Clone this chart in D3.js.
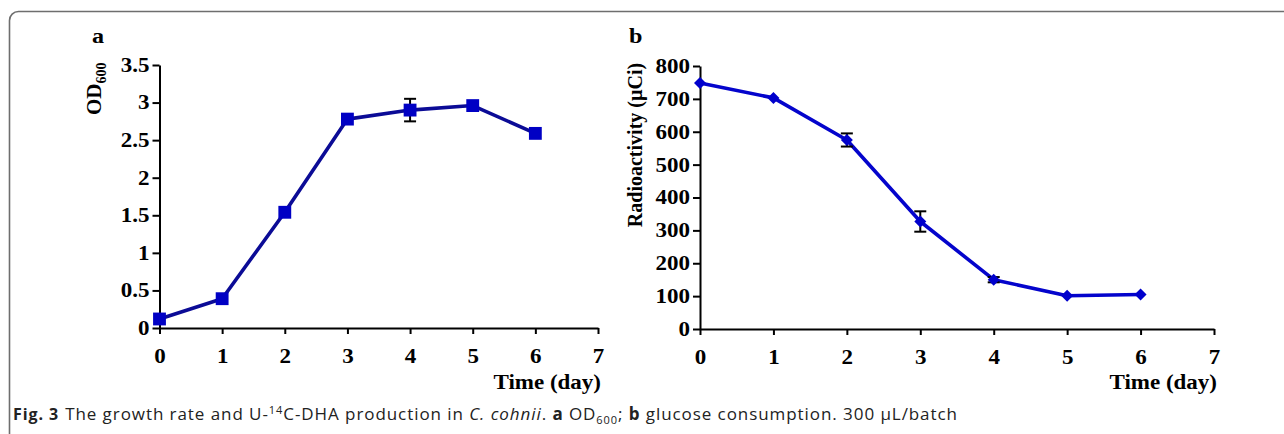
<!DOCTYPE html>
<html>
<head>
<meta charset="utf-8">
<script src="https://cdn.jsdelivr.net/npm/d3@7"></script>
<style>
  body { margin: 0; background: #fff; }
  .axis text { font-family: "Liberation Serif", "Times New Roman", serif; font-weight: bold; font-size: 20px; fill: #000; }
  .axis path, .axis line { stroke: #000; stroke-width: 2px; }
  .lbl { font-family: "Liberation Serif", "Times New Roman", serif; font-weight: bold; fill: #000; }
  .caption { font-family: "Open Sans", sans-serif; font-size: 17px; fill: #222; }
</style>
</head>
<body>
<div class="chart"></div>
<script>
// values
var days = [0, 1, 2, 3, 4, 5, 6];
var xTicks = [0, 1, 2, 3, 4, 5, 6, 7];

// panel a : OD600
var odValues = [0.12, 0.39, 1.54, 2.78, 2.9, 2.96, 2.59];
var odErrors = [0, 0, 0, 0, 0.15, 0, 0];
var odTicks = [0, 0.5, 1, 1.5, 2, 2.5, 3, 3.5];

// panel b : radioactivity
var radValues = [748, 703, 575, 327, 150, 101, 105];
var radErrors = [0, 0, 20, 31, 8, 0, 0];
var radTicks = [0, 100, 200, 300, 400, 500, 600, 700, 800];

// the figure's serif text is a little wide, stretch it sideways
var stretch = 1.15;

var svg = d3.select(".chart")
  .append("svg")
  .attr("width", 1284)
  .attr("height", 434);

// frame round the figure
svg.append("rect")
  .attr("x", 9.5)
  .attr("y", 11.5)
  .attr("width", 1300)
  .attr("height", 440)
  .attr("rx", 9)
  .attr("fill", "none")
  .attr("stroke", "#6e6e6e")
  .attr("stroke-width", 1.6);

// move the x of a text into a transform so it can be widened
function widen(sel) {
  sel.each(function() {
    var t = d3.select(this);
    var tx = +t.attr("x") || 0;
    t.attr("x", 0).attr("transform", `translate(${tx},0) scale(${stretch},1)`);
  });
}

function drawPanel(opt) {
  var x = d3.scaleLinear().domain([0, 7]).range([opt.left, opt.right]);
  var y = d3.scaleLinear().domain([0, opt.yMax]).range([opt.bottom, opt.top]);

  var g = svg.append("g");

  // axes
  var xAxisG = g.append("g")
    .attr("class", "axis")
    .attr("transform", `translate(0, ${opt.bottom})`)
    .call(d3.axisBottom(x).tickValues(xTicks).tickFormat(d3.format("d"))
      .tickSize(6).tickSizeOuter(0).tickPadding(15));

  var yAxisG = g.append("g")
    .attr("class", "axis")
    .attr("transform", `translate(${opt.left}, 0)`)
    .call(d3.axisLeft(y).tickValues(opt.ticks).tickFormat(d => String(d))
      .tickSize(7).tickSizeOuter(0).tickPadding(3));

  widen(xAxisG.selectAll("text"));
  widen(yAxisG.selectAll("text"));

  var pts = days.map((d, i) => ({ day: d, v: opt.values[i], e: opt.errors[i] }));

  // line
  var line = d3.line()
    .x(d => x(d.day))
    .y(d => y(d.v));

  g.append("path")
    .datum(pts)
    .attr("d", line)
    .attr("fill", "none")
    .attr("stroke", opt.lineColor)
    .attr("stroke-width", 3.6)
    .attr("stroke-linejoin", "round");

  // error bars
  var err = g.selectAll(".err")
    .data(pts.filter(d => d.e > 0))
    .enter()
    .append("g")
    .attr("class", "err");

  err.append("line")
    .attr("x1", d => x(d.day)).attr("x2", d => x(d.day))
    .attr("y1", d => y(d.v + d.e)).attr("y2", d => y(d.v - d.e))
    .attr("stroke", "#000").attr("stroke-width", 2);
  err.append("line")
    .attr("x1", d => x(d.day) - 6).attr("x2", d => x(d.day) + 6)
    .attr("y1", d => y(d.v + d.e)).attr("y2", d => y(d.v + d.e))
    .attr("stroke", "#000").attr("stroke-width", 2);
  err.append("line")
    .attr("x1", d => x(d.day) - 6).attr("x2", d => x(d.day) + 6)
    .attr("y1", d => y(d.v - d.e)).attr("y2", d => y(d.v - d.e))
    .attr("stroke", "#000").attr("stroke-width", 2);

  // markers
  g.selectAll(".mk")
    .data(pts)
    .enter()
    .append("path")
    .attr("class", "mk")
    .attr("transform", d => `translate(${x(d.day)}, ${y(d.v)}) rotate(${opt.rotate})`)
    .attr("d", d3.symbol().type(d3.symbolSquare).size(opt.symbolSize))
    .attr("fill", opt.markColor);

  // panel letter
  g.append("text")
    .attr("class", "lbl")
    .attr("transform", `translate(${opt.letterX}, 43) scale(${stretch},1)`)
    .style("font-size", "21px")
    .text(opt.letter);

  // x label
  g.append("text")
    .attr("class", "lbl")
    .attr("transform", `translate(${opt.right + 3}, 389) scale(${stretch},1)`)
    .attr("text-anchor", "end")
    .style("font-size", "20px")
    .text("Time (day)");

  return g;
}

var ga = drawPanel({
  left: 159.5, right: 598, top: 65, bottom: 328, yMax: 3.5,
  ticks: odTicks, values: odValues, errors: odErrors,
  lineColor: "#0b0b96", markColor: "#0000c4",
  symbolSize: 165, rotate: 0,
  letter: "a", letterX: 92
});

var gb = drawPanel({
  left: 700, right: 1214, top: 66, bottom: 329, yMax: 800,
  ticks: radTicks, values: radValues, errors: radErrors,
  lineColor: "#0404cc", markColor: "#0000cc",
  symbolSize: 72, rotate: 45,
  letter: "b", letterX: 629
});

// y labels
var odLabel = ga.append("text")
  .attr("class", "lbl")
  .attr("transform", "translate(101, 115) rotate(-90)")
  .style("font-size", "21px");
odLabel.append("tspan").text("OD");
odLabel.append("tspan").attr("dy", 5).style("font-size", "14px").text("600");

gb.append("text")
  .attr("class", "lbl")
  .attr("transform", "translate(642, 145) rotate(-90)")
  .attr("text-anchor", "middle")
  .style("font-size", "20px")
  .text("Radioactivity (\u00b5Ci)");

// caption
var cap = svg.append("text")
  .attr("class", "caption")
  .attr("x", 13)
  .attr("y", 420)
  .attr("textLength", 944)
  .attr("lengthAdjust", "spacing");
cap.append("tspan").style("font-weight", "bold").style("font-size", "16px").text("Fig. 3");
cap.append("tspan").attr("dx", 6).text("The growth rate and U-");
cap.append("tspan").attr("dy", -6).style("font-size", "11px").text("14");
cap.append("tspan").attr("dy", 6).text("C-DHA production in ");
cap.append("tspan").style("font-style", "italic").text("C. cohnii");
cap.append("tspan").text(". ");
cap.append("tspan").style("font-weight", "bold").text("a");
cap.append("tspan").text(" OD");
cap.append("tspan").attr("dy", 4).style("font-size", "11px").text("600");
cap.append("tspan").attr("dy", -4).text("; ");
cap.append("tspan").style("font-weight", "bold").text("b");
cap.append("tspan").text(" glucose consumption. 300 \u00b5L/batch");
</script>
</body>
</html>
